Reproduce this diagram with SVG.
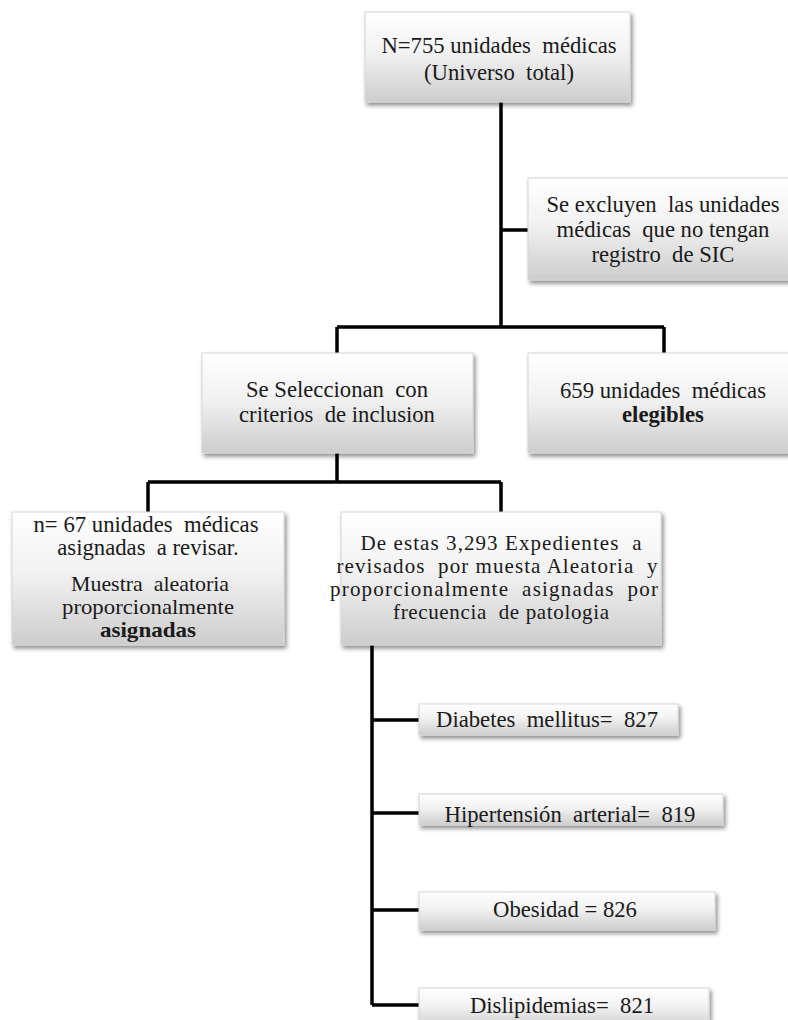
<svg xmlns="http://www.w3.org/2000/svg" width="788" height="1020" viewBox="0 0 788 1020">
<defs>
<linearGradient id="g" x1="0" y1="0" x2="0" y2="1">
<stop offset="0" stop-color="#ffffff"/>
<stop offset="0.45" stop-color="#f2f2f2"/>
<stop offset="1" stop-color="#cdcdcd"/>
</linearGradient>
<filter id="sh" x="-10%" y="-10%" width="125%" height="135%">
<feDropShadow dx="2" dy="3" stdDeviation="2" flood-color="#000" flood-opacity="0.45"/>
</filter>
</defs>
<style>
.box{fill:url(#g);stroke:#d6d6d6;stroke-width:1;filter:url(#sh)}
.t{font-family:"Liberation Serif","Times New Roman",serif;font-size:22.7px;fill:#1a1a1a;text-anchor:middle;white-space:pre}
.s{font-size:21px}
.b{font-weight:bold}
.c{fill:none;stroke:#000;stroke-width:3.5}
</style>
<rect width="788" height="1020" fill="#fff"/>
<g id="connectors">
<path class="c" d="M501 102 V327 M501 230 H528 M337 327 H664 M337 327 V353 M664 327 V353"/>
<path class="c" d="M337 453 V482 M148 482 H501 M148 482 V512 M501 482 V512"/>
<path class="c" d="M372 645 V1005 M372 720 H419 M372 813 H419 M372 910 H419 M372 1005 H419"/>
</g>
<g id="n1">
<rect class="box" x="365" y="12" width="265" height="90"/>
<text class="t" xml:space="preserve" x="499" y="53">N=755 unidades  médicas</text>
<text class="t" xml:space="preserve" x="499" y="80">(Universo  total)</text>
</g>
<g id="n2">
<rect class="box" x="528" y="178" width="262" height="102"/>
<text class="t" xml:space="preserve" x="663" y="212">Se excluyen  las unidades</text>
<text class="t" xml:space="preserve" x="663" y="237">médicas  que no tengan</text>
<text class="t" xml:space="preserve" x="663" y="262">registro  de SIC</text>
</g>
<g id="n3">
<rect class="box" x="202" y="353" width="271" height="100"/>
<text class="t" xml:space="preserve" x="337" y="397">Se Seleccionan  con</text>
<text class="t" xml:space="preserve" x="337" y="422">criterios  de inclusion</text>
</g>
<g id="n4">
<rect class="box" x="528" y="353" width="262" height="100"/>
<text class="t" xml:space="preserve" x="663" y="398">659 unidades  médicas</text>
<text class="t b" x="663" y="422">elegibles</text>
</g>
<g id="n5">
<rect class="box" x="12" y="512" width="272" height="133"/>
<text class="t" xml:space="preserve" x="146" y="532" textLength="225" lengthAdjust="spacingAndGlyphs">n= 67 unidades  médicas</text>
<text class="t" xml:space="preserve" x="148" y="555">asignadas  a revisar.</text>
<text class="t s" xml:space="preserve" x="150" y="591" textLength="158" lengthAdjust="spacingAndGlyphs">Muestra  aleatoria</text>
<text class="t s" x="148" y="614" textLength="172" lengthAdjust="spacingAndGlyphs">proporcionalmente</text>
<text class="t s b" x="148" y="637" textLength="96" lengthAdjust="spacingAndGlyphs">asignadas</text>
</g>
<g id="n6">
<rect class="box" x="341" y="512" width="320" height="133"/>
<text class="t s" xml:space="preserve" x="501" y="550" textLength="281" lengthAdjust="spacing">De estas 3,293 Expedientes  a</text>
<text class="t s" xml:space="preserve" x="497" y="573" textLength="321" lengthAdjust="spacing">revisados  por muesta Aleatoria  y</text>
<text class="t s" xml:space="preserve" x="494" y="596" textLength="328" lengthAdjust="spacing">proporcionalmente  asignadas  por</text>
<text class="t s" xml:space="preserve" x="501" y="619" textLength="216" lengthAdjust="spacing">frecuencia  de patologia</text>
</g>
<g id="n7">
<rect class="box" x="419" y="704" width="259" height="31"/>
<text class="t" xml:space="preserve" x="547" y="727">Diabetes  mellitus=  827</text>
</g>
<g id="n8">
<rect class="box" x="419" y="794" width="304" height="31"/>
<text class="t" xml:space="preserve" x="570" y="822">Hipertensión  arterial=  819</text>
</g>
<g id="n9">
<rect class="box" x="419" y="892" width="296" height="38"/>
<text class="t" xml:space="preserve" x="565" y="917">Obesidad = 826</text>
</g>
<g id="n10">
<rect class="box" x="419" y="988" width="290" height="40"/>
<text class="t" xml:space="preserve" x="562" y="1013">Dislipidemias=  821</text>
</g>
</svg>
